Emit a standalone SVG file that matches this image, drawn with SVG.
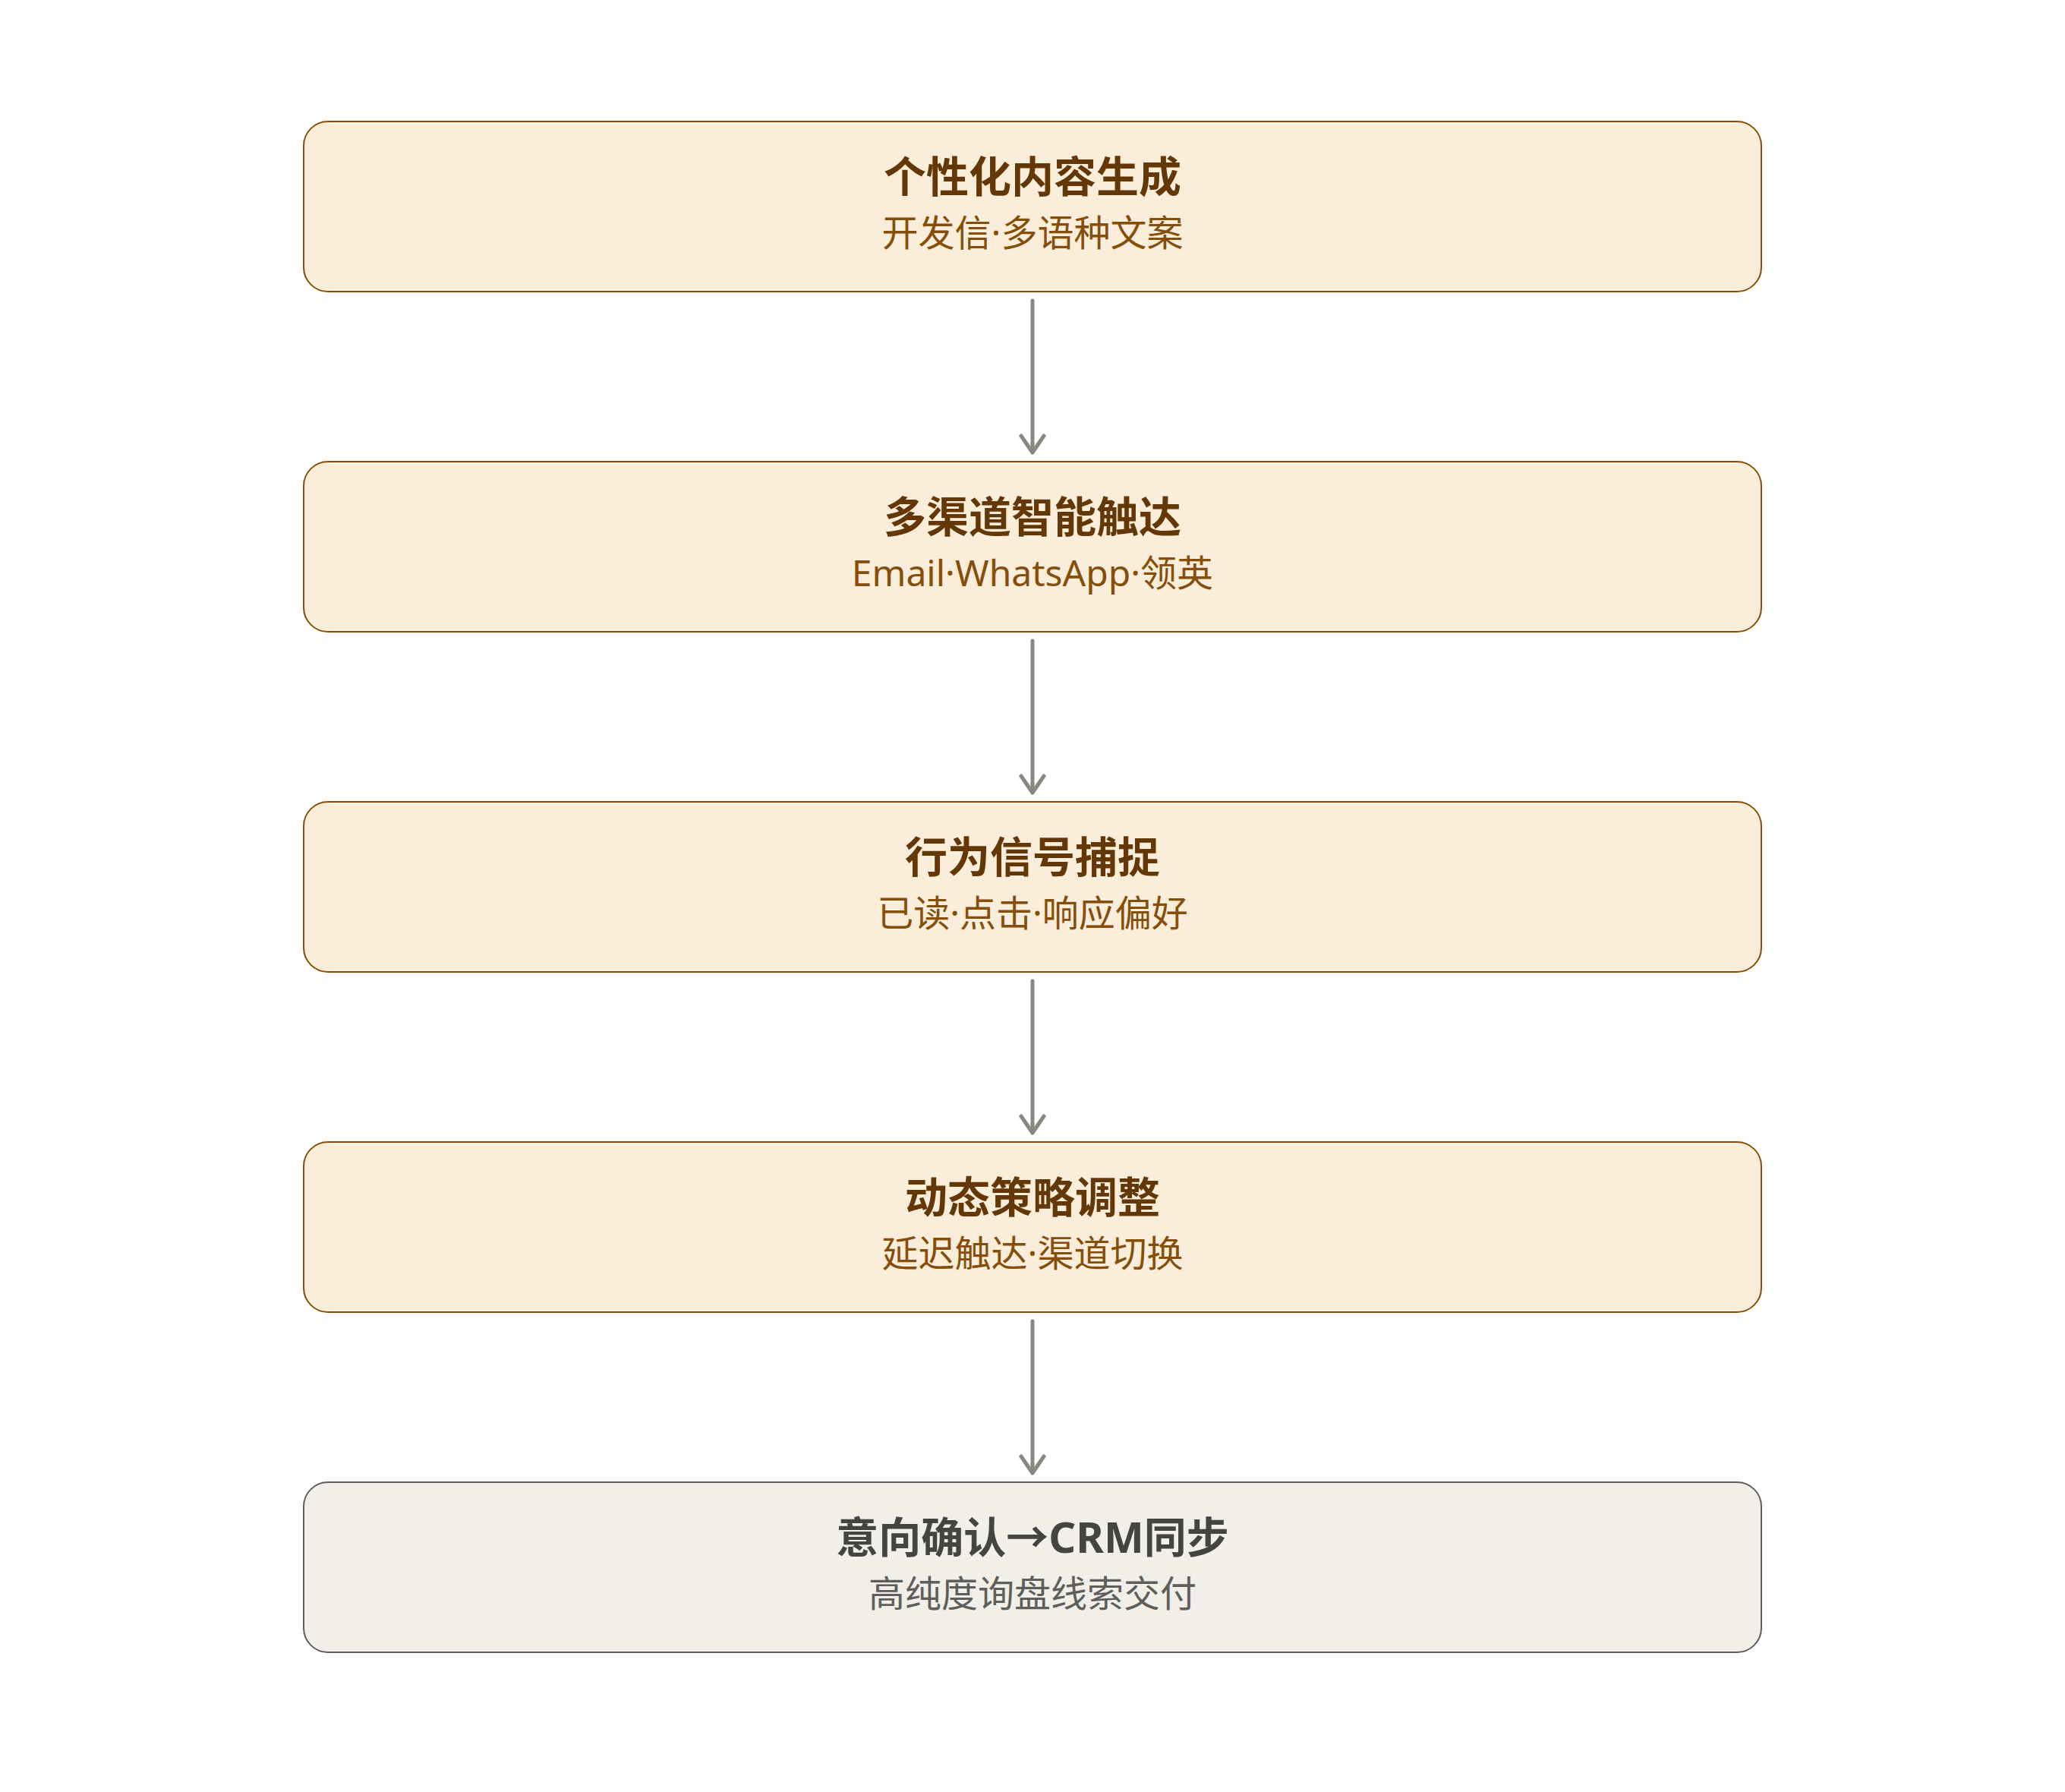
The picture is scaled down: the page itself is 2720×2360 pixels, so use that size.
<svg xmlns="http://www.w3.org/2000/svg" width="2720" height="2360" viewBox="0 0 2720 2360">
<defs>
<style>
.box{fill:#FAEEDA;stroke:#854F0B;stroke-width:2}
.boxg{fill:#F1EFE8;stroke:#5F5E5A;stroke-width:2}
.t{font-family:"Noto Sans","Noto Sans CJK SC",sans-serif;font-size:56px;font-weight:700;text-anchor:middle;fill:#633806}
.s{font-family:"Noto Sans","Noto Sans CJK SC",sans-serif;font-size:48px;font-weight:400;text-anchor:middle;fill:#854F0B}
.tg{fill:#444441}
.sg{fill:#5F5E5A}
.edge{stroke:#888780;stroke-width:5;fill:none;stroke-linecap:round;stroke-linejoin:round}
</style>
</defs>
<rect width="2720" height="2360" fill="#FFFFFF"/>
<g id="connectors">
<path class="edge" d="M1360 396 V596 M1345 574 L1360 596 L1375 574"/>
<path class="edge" d="M1360 844 V1044 M1345 1022 L1360 1044 L1375 1022"/>
<path class="edge" d="M1360 1292 V1492 M1345 1470 L1360 1492 L1375 1470"/>
<path class="edge" d="M1360 1740 V1940 M1345 1918 L1360 1940 L1375 1918"/>
</g>
<g id="node1">
<rect class="box" x="400" y="160" width="1920" height="224" rx="32"/>
<text class="t" x="1360" y="253">个性化内容生成</text>
<text class="s" x="1360" y="324">开发信·多语种文案</text>
</g>
<g id="node2">
<rect class="box" x="400" y="608" width="1920" height="224" rx="32"/>
<text class="t" x="1360" y="701">多渠道智能触达</text>
<text class="s" x="1360" y="772">Email·WhatsApp·领英</text>
</g>
<g id="node3">
<rect class="box" x="400" y="1056" width="1920" height="224" rx="32"/>
<text class="t" x="1360" y="1149">行为信号捕捉</text>
<text class="s" x="1360" y="1220">已读·点击·响应偏好</text>
</g>
<g id="node4">
<rect class="box" x="400" y="1504" width="1920" height="224" rx="32"/>
<text class="t" x="1360" y="1597">动态策略调整</text>
<text class="s" x="1360" y="1668">延迟触达·渠道切换</text>
</g>
<g id="node5">
<rect class="boxg" x="400" y="1952" width="1920" height="224" rx="32"/>
<text class="t tg" x="1360" y="2045">意向确认→CRM同步</text>
<text class="s sg" x="1360" y="2116">高纯度询盘线索交付</text>
</g>
</svg>
